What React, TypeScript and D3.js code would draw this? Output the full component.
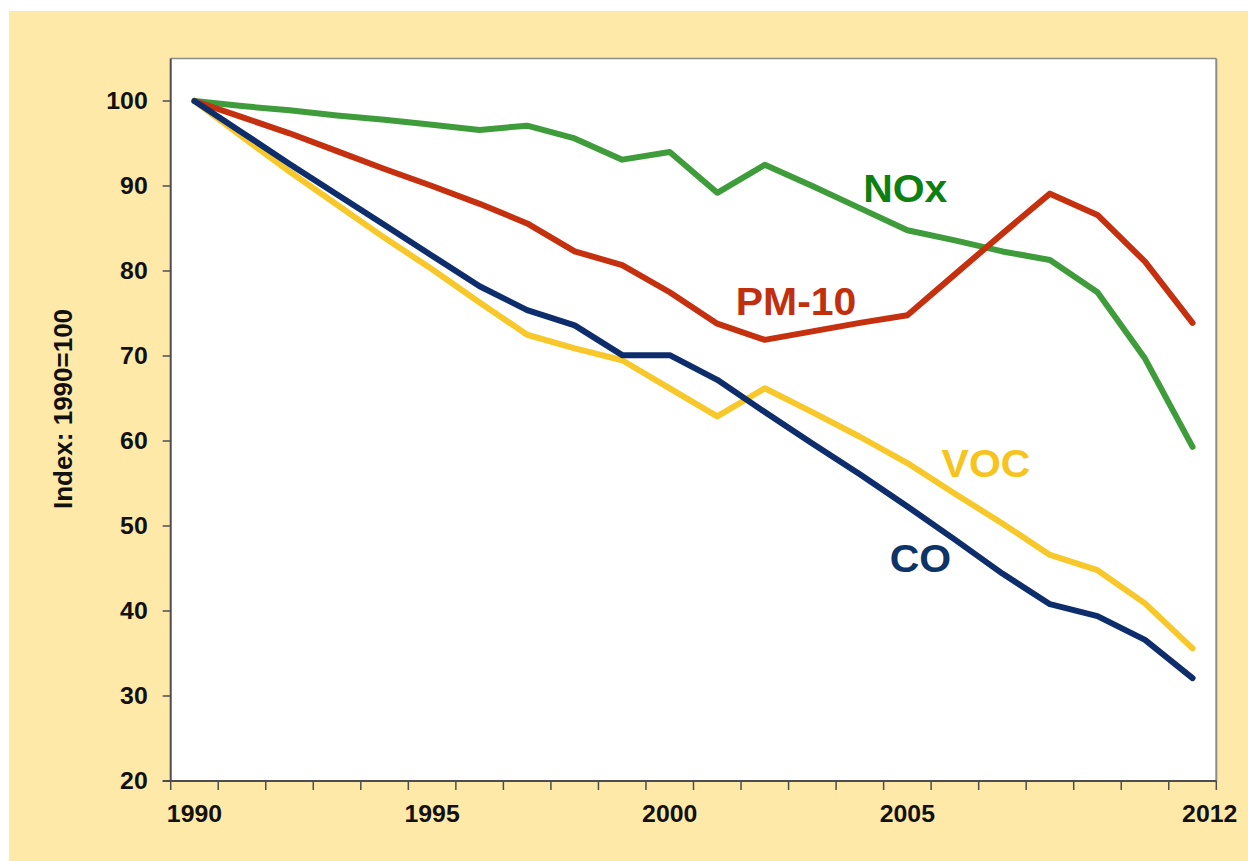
import React from "react";
import * as d3 from "d3";

const years = [1990, 1991, 1992, 1993, 1994, 1995, 1996, 1997, 1998, 1999, 2000, 2001, 2002, 2003, 2004, 2005, 2006, 2007, 2008, 2010, 2011, 2012];
const labeledYears = [1990, 1995, 2000, 2005, 2012];
const yTicks = [20, 30, 40, 50, 60, 70, 80, 90, 100];

const nox = [100, 99.4, 98.9, 98.3, 97.8, 97.2, 96.6, 97.1, 95.6, 93.1, 94.0, 89.2, 92.5, 90.0, 87.4, 84.8, 83.6, 82.3, 81.3, 77.5, 69.7, 59.3];
const pm10 = [100, 98.1, 96.2, 94.1, 92.0, 90.0, 87.9, 85.6, 82.3, 80.7, 77.5, 73.8, 71.9, 72.9, 73.9, 74.8, 79.6, 84.4, 89.1, 86.6, 81.1, 73.9];
const co = [100, 96.3, 92.6, 89.0, 85.4, 81.8, 78.2, 75.4, 73.6, 70.1, 70.1, 67.2, 63.4, 59.7, 56.1, 52.3, 48.4, 44.4, 40.8, 39.4, 36.6, 32.1];
const voc = [100, 95.8, 91.7, 87.8, 83.9, 80.2, 76.3, 72.5, 70.9, 69.5, 66.2, 62.9, 66.2, 63.4, 60.5, 57.4, 53.8, 50.3, 46.6, 44.8, 40.9, 35.6];

const seriesNames = ["NOx", "PM-10", "VOC", "CO"];
const seriesValues = [nox, pm10, voc, co];
const lineColors = ["#3f9c3a", "#c5300f", "#f8c82a", "#0d2d6c"];
const labelColors = ["#0e8012", "#c1300e", "#f6c41c", "#0d3468"];
// label anchor in (category index, value) units
const labelIdx = [14.07, 11.39, 15.72, 14.63];
const labelVal = [88.15, 74.8, 55.8, 44.6];

const W = 1248;
const H = 861;
const FONT = "'Liberation Sans', Arial, Helvetica, sans-serif";

export default function App() {
  const left = 170.7;
  const right = 1216.3;
  const top = 58.5;
  const bottom = 781;

  const x = d3.scaleBand<number>().domain(years).range([left, right]).padding(0);
  const bw = x.bandwidth();
  const cx = (yr: number) => (x(yr) as number) + bw / 2;
  const xi = d3.scaleLinear().domain([0, years.length - 1]).range([cx(years[0]), cx(years[years.length - 1])]);
  const y = d3.scaleLinear().domain([20, 105]).range([bottom, top]);

  const line = d3
    .line<number>()
    .x((_, i) => cx(years[i]))
    .y((d) => y(d));

  const boundaries = d3.range(years.length + 1).map((i) => left + i * bw);

  return (
    <svg width={W} height={H} style={{ position: "absolute", left: 0, top: 0, display: "block" }}>
      <rect x={0} y={0} width={W} height={H} fill="#ffffff" />
      <rect x={9} y={11} width={W - 9} height={H - 11} fill="#fee9a9" />
      <rect x={left} y={top} width={right - left} height={bottom - top} fill="#ffffff" />
      {/* plot border top/right */}
      <line x1={left} y1={top} x2={right} y2={top} stroke="#8c8c8c" strokeWidth={1.5} />
      <line x1={right} y1={top} x2={right} y2={bottom} stroke="#8c8c8c" strokeWidth={2} />

      {/* series */}
      {seriesValues.map((vals, k) => (
        <path
          key={seriesNames[k]}
          d={line(vals) as string}
          fill="none"
          stroke={lineColors[k]}
          strokeWidth={6}
          strokeLinejoin="round"
          strokeLinecap="round"
        />
      ))}

      {/* axes */}
      <line x1={left} y1={top} x2={left} y2={bottom} stroke="#4d4d4d" strokeWidth={2} />
      <line x1={left - 8} y1={bottom} x2={right} y2={bottom} stroke="#4d4d4d" strokeWidth={2} />
      {yTicks.map((t) => (
        <g key={"yt" + t}>
          <line x1={left - 8} x2={left} y1={y(t)} y2={y(t)} stroke="#4d4d4d" strokeWidth={1.5} />
          <text
            transform={`translate(${left - 23},${y(t) + 8}) scale(1.08,1)`}
            textAnchor="end"
            fontFamily={FONT}
            fontWeight="bold"
            fontSize={23}
            fill="#111"
          >
            {t}
          </text>
        </g>
      ))}
      {boundaries.map((bx, i) => (
        <line key={"xt" + i} x1={bx} x2={bx} y1={bottom} y2={bottom + 9} stroke="#4d4d4d" strokeWidth={1.5} />
      ))}
      {labeledYears.map((yr) => {
        const last = yr === years[years.length - 1];
        return (
          <text
            key={"xl" + yr}
            transform={`translate(${last ? right + 21 : cx(yr)},${bottom + 41}) scale(1.08,1)`}
            textAnchor={last ? "end" : "middle"}
            fontFamily={FONT}
            fontWeight="bold"
            fontSize={23}
            fill="#111"
          >
            {yr}
          </text>
        );
      })}

      <text
        transform={`translate(71.5,409) rotate(-90) scale(1.04,1)`}
        textAnchor="middle"
        fontFamily={FONT}
        fontWeight="bold"
        fontSize={25}
        fill="#111"
      >
        Index: 1990=100
      </text>

      {seriesNames.map((n, k) => (
        <text
          key={"lab" + n}
          transform={`translate(${xi(labelIdx[k])},${y(labelVal[k])}) scale(1.05,1)`}
          fontFamily={FONT}
          fontWeight="bold"
          fontSize={39}
          fill={labelColors[k]}
        >
          {n}
        </text>
      ))}
    </svg>
  );
}
